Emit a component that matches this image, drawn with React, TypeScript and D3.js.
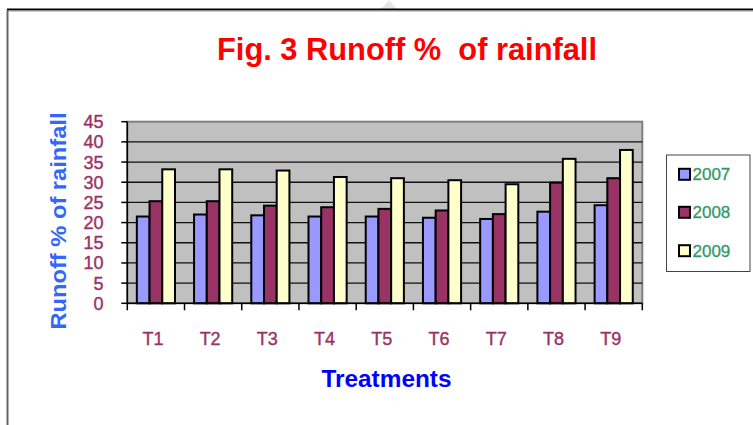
import React from "react";
import * as d3 from "d3";

const categories = ["T1", "T2", "T3", "T4", "T5", "T6", "T7", "T8", "T9"];
const seriesNames = ["2007", "2008", "2009"];
const values2007 = [21.5, 22.0, 21.8, 21.5, 21.5, 21.2, 20.9, 22.7, 24.3];
const values2008 = [25.3, 25.3, 24.2, 23.8, 23.4, 23.0, 22.1, 29.9, 31.0];
const values2009 = [33.2, 33.2, 32.9, 31.3, 31.0, 30.5, 29.5, 35.8, 38.0];
const yTicks = [0, 5, 10, 15, 20, 25, 30, 35, 40, 45];
const seriesColors = ["#9999FF", "#993366", "#FFFFCC"];

const W = 753;
const H = 425;
const FONT = "'Liberation Sans', Arial, sans-serif";

export default function App() {
  const series = [values2007, values2008, values2009];
  const left = 127.3, right = 642.3, top = 121.7, bottom = 303.3;
  const y = d3.scaleLinear().domain([0, 45]).range([bottom, top]);
  const x = d3.scaleBand<string>().domain(categories).range([left, right]).paddingInner(0).paddingOuter(0);
  const bw = x.bandwidth();
  const xs = d3.scaleBand<string>().domain(seriesNames).range([bw / 6, bw - bw / 6]).padding(0);
  const boundaries = d3.range(categories.length + 1).map((i) => left + i * bw);

  return (
    <svg width={W} height={H} style={{ position: "absolute", left: 0, top: 0, background: "#fff" }}>
      <rect x={0} y={0} width={W} height={H} fill="#fff" />
      {/* faint decoration */}
      <polygon points="381,9 389,0 397,9" fill="#e6e6e6" />
      {/* frame */}
      <line x1={7} y1={9.5} x2={W} y2={9.5} stroke="#000" strokeWidth={2} />
      <line x1={7} y1={11} x2={W} y2={11} stroke="#9a9a9a" strokeWidth={1} />
      <line x1={7.5} y1={10} x2={7.5} y2={H} stroke="#666" strokeWidth={2} />

      {/* title */}
      <text x={217} y={60} textAnchor="start" fill="#FF0000" fontFamily={FONT} fontWeight="bold" fontSize={31}
        textLength={380} lengthAdjust="spacingAndGlyphs" style={{ whiteSpace: "pre" }}>Fig. 3 Runoff %  of rainfall</text>

      {/* plot area */}
      <rect x={left} y={top} width={right - left} height={bottom - top} fill="#C0C0C0" stroke="#808080" strokeWidth={2} />
      {yTicks.filter((t) => t > 0 && t < 45).map((t) => (
        <line key={t} x1={left} x2={right} y1={y(t)} y2={y(t)} stroke="#111" strokeWidth={1.3} />
      ))}

      {/* bars */}
      {categories.map((c, i) => (
        <g key={c}>
          {series.map((vals, s) => (
            <rect key={s} x={(x(c) as number) + (xs(seriesNames[s]) as number)} y={y(vals[i])}
              width={xs.bandwidth()} height={y(0) - y(vals[i])}
              fill={seriesColors[s]} stroke="#000" strokeWidth={2} />
          ))}
        </g>
      ))}

      {/* axes */}
      <line x1={left} x2={left} y1={top} y2={bottom} stroke="#000" strokeWidth={1.5} />
      {yTicks.map((t) => (
        <g key={t}>
          <line x1={left - 6} x2={left} y1={y(t)} y2={y(t)} stroke="#000" strokeWidth={1.5} />
          <text x={103.5} y={y(t)} dy="0.36em" textAnchor="end" fill="#993366" fontFamily={FONT} fontSize={18}
            stroke="#993366" strokeWidth={0.4}>{t}</text>
        </g>
      ))}
      <line x1={left} x2={right} y1={bottom} y2={bottom} stroke="#000" strokeWidth={1.5} />
      {boundaries.map((b, i) => (
        <line key={i} x1={b} x2={b} y1={bottom} y2={bottom + 7} stroke="#000" strokeWidth={1.5} />
      ))}
      {categories.map((c) => (
        <text key={c} x={(x(c) as number) + bw / 2 - 3} y={345} textAnchor="middle" fill="#993366"
          fontFamily={FONT} fontSize={18} stroke="#993366" strokeWidth={0.4}>{c}</text>
      ))}

      {/* axis titles */}
      <text x={386.5} y={387} textAnchor="middle" fill="#0000FF" fontFamily={FONT} fontWeight="bold" fontSize={23}
        textLength={130} lengthAdjust="spacingAndGlyphs">Treatments</text>
      <text transform="translate(66,221) rotate(-90)" textAnchor="middle" fill="#3366FF" fontFamily={FONT}
        fontWeight="bold" fontSize={22} textLength={217} lengthAdjust="spacingAndGlyphs">Runoff % of rainfall</text>

      {/* legend */}
      <rect x={666.5} y={155} width={83.5} height={116.5} fill="#fff" stroke="#444" strokeWidth={1} />
      {seriesNames.map((n, s) => {
        const cy = [174.3, 212.3, 250.7][s];
        return (
          <g key={n}>
            <rect x={679} y={cy - 5.5} width={11} height={11} fill={seriesColors[s]} stroke="#000" strokeWidth={2} />
            <text x={692.5} y={cy} dy="0.36em" fill="#339966" fontFamily={FONT} fontSize={17}
              stroke="#339966" strokeWidth={0.3}>{n}</text>
          </g>
        );
      })}
    </svg>
  );
}
